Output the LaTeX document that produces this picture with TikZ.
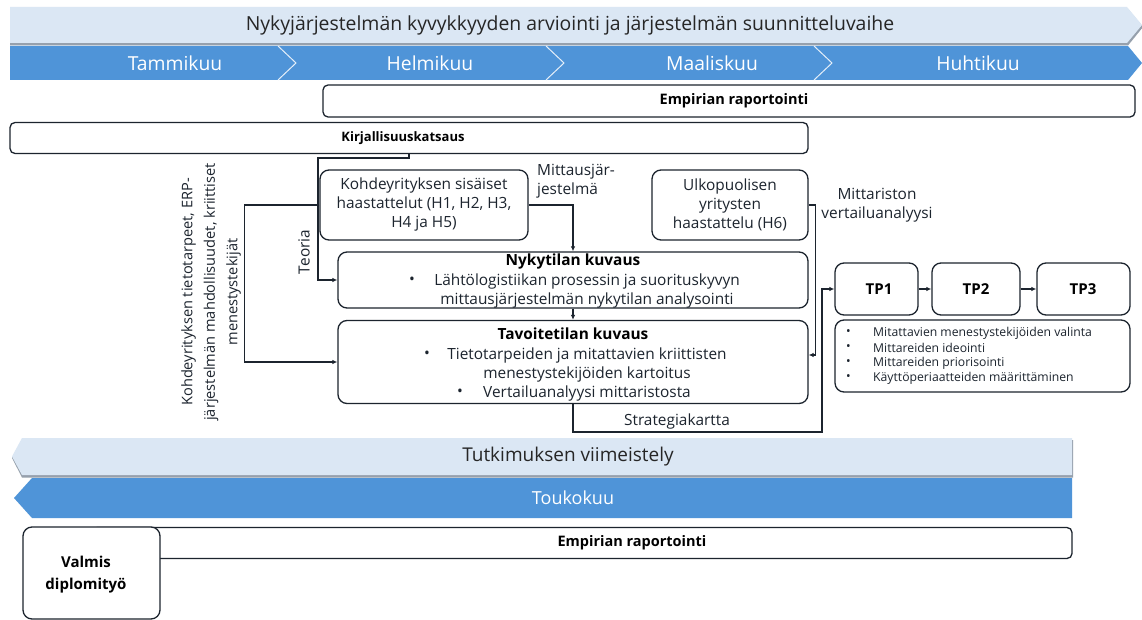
\documentclass[tikz,border=0pt]{standalone}
\usepackage{fontspec}
\setmainfont{Open Sans}
\usetikzlibrary{arrows.meta}
\definecolor{bandlight}{RGB}{219,231,244}
\definecolor{bandblue}{RGB}{79,148,216}
\definecolor{bandshade}{RGB}{150,160,172}
\definecolor{ink}{RGB}{28,36,46}
\begin{document}
\begin{tikzpicture}[x=1pt,y=-1pt,
  box/.style={draw=ink, line width=1.3pt, rounded corners=9pt, fill=white, inner sep=0pt},
  barbox/.style={draw=ink, line width=1.3pt, rounded corners=5pt, fill=white, inner sep=0pt},
  arr/.style={draw=ink, line width=1.3pt, -{Latex[length=5pt,width=4.5pt]}},
  txt/.style={font=\fontsize{15.4}{19}\selectfont, align=center, inner sep=0pt, text=ink},
  ttl/.style={font=\fontsize{15.4}{19}\selectfont\bfseries, inner sep=0pt, text=black},
  lbl/.style={font=\fontsize{13.5}{17}\selectfont\bfseries, inner sep=0pt, text=black},
  month/.style={font=\fontsize{19.3}{20}\selectfont, text=white, inner sep=0pt},
  phase/.style={font=\fontsize{19}{20}\selectfont, text=black!85, inner sep=0pt},
  small/.style={font=\fontsize{12.2}{15}\selectfont, inner sep=0pt, text=ink, anchor=west},
  chev/.style={draw=white!85!bandblue, line width=1pt}
]
\useasboundingbox (0,0) rectangle (1142,620);
\fill[white] (0,0) rectangle (1142,620);

% ---------- top phase and month bands ----------
\fill[bandshade] (10,9) -- (1128,9) -- (1143,27) -- (1128,45.5) -- (10,45.5) -- cycle;
\fill[bandlight] (10,7) -- (1127,7) -- (1142,25) -- (1127,43) -- (10,43) -- cycle;
\node[phase, font=\fontsize{19.4}{20}\selectfont] (phase1) at (570,25) {Nykyjärjestelmän kyvykkyyden arviointi ja järjestelmän suunnitteluvaihe};
\fill[bandblue] (10,46) -- (1128,46) -- (1142,63) -- (1128,80) -- (10,80) -- cycle;
\draw[chev] (278,46) -- (296,63) -- (278,80);
\draw[chev] (546,46) -- (564,63) -- (546,80);
\draw[chev] (814,46) -- (832,63) -- (814,80);
\node[month] (m1) at (175,63) {Tammikuu};
\node[month] (m2) at (430,63) {Helmikuu};
\node[month] (m3) at (712,63) {Maaliskuu};
\node[month] (m4) at (978,63) {Huhtikuu};

% ---------- reporting and literature bars ----------
\node[barbox, minimum width=812pt, minimum height=32pt] (emp1) at (729,101) {};
\node[lbl, font=\fontsize{14.5}{17}\selectfont\bfseries] (emp1t) at (734,101) {Empirian raportointi};
\node[barbox, minimum width=798pt, minimum height=31pt] (kirj) at (409,138) {};
\node[lbl, font=\fontsize{13}{17}\selectfont\bfseries] (kirjt) at (403,138) {Kirjallisuuskatsaus};

% ---------- interview boxes ----------
\node[box, minimum width=208pt, minimum height=70pt] (kohde) at (424,205) {};
\node[txt] (kohdet) at (424,205) {Kohdeyrityksen sisäiset\\haastattelut (H1, H2, H3,\\H4 ja H5)};
\node[box, minimum width=156pt, minimum height=70pt] (ulko) at (730,205) {};
\node[txt] (ulkot) at (730,205) {Ulkopuolisen\\yritysten\\haastattelu (H6)};

% ---------- current state ----------
\node[box, minimum width=470pt, minimum height=56pt] (nyky) at (573,280) {};
\node[ttl] (nykyt) at (573,261) {Nykytilan kuvaus};
\node[txt] (nykyb) at (412,281) {•};
\node[txt] (nyky1) at (587,281) {Lähtölogistiikan prosessin ja suorituskyvyn};
\node[txt] (nyky2) at (587,300) {mittausjärjestelmän nykytilan analysointi};

% ---------- target state ----------
\node[box, minimum width=470pt, minimum height=83pt] (tavo) at (573,362) {};
\node[ttl] (tavot) at (573,334) {Tavoitetilan kuvaus};
\node[txt] (tavob1) at (427,355) {•};
\node[txt] (tavo1) at (587,355) {Tietotarpeiden ja mitattavien kriittisten};
\node[txt] (tavo2) at (587,374) {menestystekijöiden kartoitus};
\node[txt] (tavob2) at (460,393) {•};
\node[txt] (tavo3) at (587,393) {Vertailuanalyysi mittaristosta};

% ---------- work packages ----------
\node[box, minimum width=83pt, minimum height=52pt] (tp1) at (876.5,289) {};
\node[box, minimum width=88pt, minimum height=52pt] (tp2) at (976,289) {};
\node[box, minimum width=93pt, minimum height=52pt] (tp3) at (1083.5,289) {};
\node[ttl, font=\fontsize{15}{18}\selectfont\bfseries] (tp1t) at (879,289) {TP1};
\node[ttl, font=\fontsize{15}{18}\selectfont\bfseries] (tp2t) at (976,289) {TP2};
\node[ttl, font=\fontsize{15}{18}\selectfont\bfseries] (tp3t) at (1083,289) {TP3};
\node[box, minimum width=295pt, minimum height=72pt] (tpl) at (982.5,356) {};
\foreach \yy/\tt [count=\i] in {333/Mitattavien menestystekijöiden valinta,
                               348/Mittareiden ideointi,
                               363/Mittareiden priorisointi,
                               378/Käyttöperiaatteiden määrittäminen}{
  \node[small] (tpb\i) at (846,\yy) {•};
  \node[small] (tpl\i) at (873,\yy) {\tt};
}

% ---------- connector labels ----------
\node[txt, align=left, anchor=north west] (mittl) at (537,164) {Mittausjär-\\jestelmä};
\node[txt] (vertl) at (877,205) {Mittariston\\vertailuanalyysi};
\node[txt, rotate=90] (teoria) at (304,252) {Teoria};
\node[txt, rotate=90, font=\fontsize{14.6}{22.5}\selectfont] (tarpeet) at (211,292) {Kohdeyrityksen tietotarpeet, ERP-\\järjestelmän mahdollisuudet, kriittiset\\menestystekijät};
\node[txt] (strat) at (677,421) {Strategiakartta};

% ---------- connectors ----------
\coordinate (teoX) at (409,0);
\draw[arr] (kirj.south -| teoX) -- ++(0,4) -- ++(-91,0) |- (nyky.west);
\draw[arr] (kohde.west) -- ++(-75,0) |- (tavo.west);
\draw[arr] (kohde.east) -| (nyky.north);
\draw[arr] (nyky.south) -- (tavo.north);
\draw[arr] (ulko.east) -- ++(7,0) |- ([yshift=7pt]tavo.east);
\coordinate (sk) at (822,432);
\draw[arr] (tavo.south) |- (sk) |- (tp1.west);
\draw[arr] (tp1.east) -- (tp2.west);
\draw[arr] (tp2.east) -- (tp3.west);

% ---------- closing phase bands ----------
\fill[bandshade] (22,440) -- (1073,440) -- (1073,477.5) -- (22,477.5) -- (12,458) -- cycle;
\fill[bandlight] (22,438) -- (1072,438) -- (1072,475) -- (22,475) -- (12,456.5) -- cycle;
\node[phase] (phase2) at (568,457) {Tutkimuksen viimeistely};
\fill[bandblue] (32,478) -- (1072,478) -- (1072,518) -- (32,518) -- (14,498) -- cycle;
\node[month, font=\fontsize{18}{20}\selectfont] (m5) at (573,498) {Toukokuu};

% ---------- final reporting ----------
\node[barbox, minimum width=980pt, minimum height=31pt] (emp2) at (582,543) {};
\node[lbl, font=\fontsize{14.5}{17}\selectfont\bfseries] (emp2t) at (632,543) {Empirian raportointi};
\node[box, minimum width=137pt, minimum height=92pt] (valmis) at (91.5,573) {};
\node[lbl, align=center, font=\fontsize{15}{22}\selectfont\bfseries] (valmist) at (86,575) {Valmis\\diplomityö};
\end{tikzpicture}
\end{document}
